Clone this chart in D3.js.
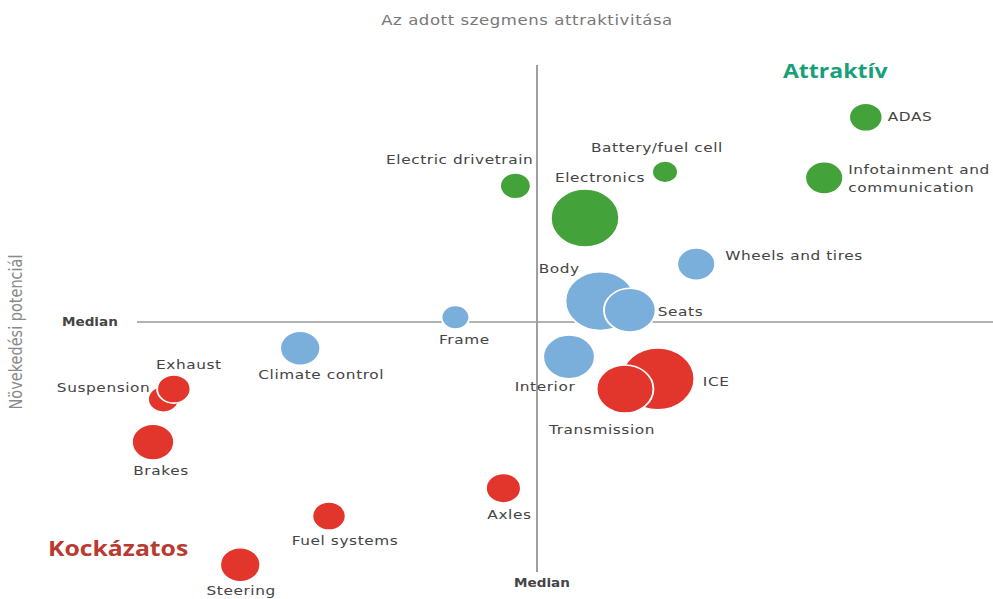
<!DOCTYPE html>
<html>
<head>
<meta charset="utf-8">
<script src="https://cdn.jsdelivr.net/npm/d3@7"></script>
<style>
  html, body { margin: 0; padding: 0; background: #fff; }
  svg { display: block; }
</style>
</head>
<body>
<div id="chart"></div>
<script>
// segment data (x: attractiveness, y: growth potential, size: bubble area)
const names = ["Electric drivetrain", "Battery/fuel cell", "Electronics", "ADAS", "Infotainment and communication",
  "Wheels and tires", "Body", "Seats", "Frame", "Interior", "Climate control",
  "ICE", "Transmission", "Suspension", "Exhaust", "Brakes", "Axles", "Fuel systems", "Steering"]
const xVals = [47.3, 66.0, 56.0, 91.1, 85.9, 69.9, 57.9, 61.6, 39.8, 54.0, 20.4, 65.1, 61.0, 3.3, 4.6, 2.0, 45.8, 24.0, 12.9]
const yVals = [75.4, 78.0, 69.4, 88.2, 76.9, 60.8, 53.9, 52.2, 50.9, 43.5, 45.1, 39.4, 37.5, 35.6, 37.5, 27.6, 19.0, 13.8, 4.7]
const sizes = [17, 12, 84, 20, 26, 26, 87, 48, 14, 48, 29, 96, 58, 17, 20, 32, 22, 20, 29]
const groups = ["g", "g", "g", "g", "g", "b", "b", "b", "b", "b", "b", "r", "r", "r", "r", "r", "r", "r", "r"]

const title = "Az adott szegmens attraktivitása"
const yTitle = "Növekedési potenciál"

// label placement relative to bubble centre (screen px)
const labelPos = {
  "Electric drivetrain": [18, -22, "end"],
  "Battery/fuel cell": [-8, -20, "middle"],
  "Electronics": [15, -36, "middle"],
  "ADAS": [22, 4, "start"],
  "Infotainment and communication": [24, -4, "start"],
  "Wheels and tires": [29, -4, "start"],
  "Body": [-41, -28, "middle"],
  "Seats": [28, 6, "start"],
  "Frame": [9, 27, "middle"],
  "Interior": [-24, 34, "middle"],
  "Climate control": [21, 31, "middle"],
  "ICE": [45, 7, "start"],
  "Transmission": [-23, 45, "middle"],
  "Suspension": [-13, -7, "end"],
  "Exhaust": [15, -20, "middle"],
  "Brakes": [8, 33, "middle"],
  "Axles": [6, 31, "middle"],
  "Fuel systems": [16, 29, "middle"],
  "Steering": [1, 30, "middle"]
}

const data = names.map((n, i) => ({name: n, x: xVals[i], y: yVals[i], size: sizes[i], group: groups[i]}))

const width = 993, height = 599
const k = 1.18 // horizontal stretch of the picture
const vw = width / k

const svg = d3.select("#chart").append("svg")
  .attr("width", width).attr("height", height)
  .attr("viewBox", `0 0 ${vw} ${height}`)
  .attr("preserveAspectRatio", "none")

const xScale = d3.scaleLinear().domain([0, 100]).range([137 / k, 937 / k])
const yScale = d3.scaleLinear().domain([0, 100]).range([590, 54])
const rScale = d3.scaleSqrt().domain([0, 100]).range([0, 31.6])
const color = d3.scaleOrdinal().domain(["g", "b", "r"]).range(["#44a23a", "#7aafdb", "#e2352c"])

const font = "DejaVu Sans, Verdana, sans-serif"

// median lines
svg.append("line")
  .attr("x1", xScale(50)).attr("x2", xScale(50))
  .attr("y1", 65).attr("y2", 572)
  .attr("stroke", "#9a9a9a").attr("stroke-width", 1.6)
svg.append("line")
  .attr("x1", 137 / k).attr("x2", vw)
  .attr("y1", yScale(50)).attr("y2", yScale(50))
  .attr("stroke", "#9a9a9a").attr("stroke-width", 1.6)

svg.append("text").text("Median")
  .attr("x", 62 / k).attr("y", yScale(50) + 4)
  .attr("font-family", font).attr("font-size", 11.5).attr("font-weight", "bold").attr("fill", "#444")
svg.append("text").text("Median")
  .attr("x", xScale(50) + 5 / k).attr("y", 587).attr("text-anchor", "middle")
  .attr("font-family", font).attr("font-size", 11.5).attr("font-weight", "bold").attr("fill", "#444")

// titles
svg.append("text").text(title)
  .attr("x", 527 / k).attr("y", 25).attr("text-anchor", "middle")
  .attr("font-family", font).attr("font-size", 14).attr("letter-spacing", 0.5).attr("fill", "#777")
svg.append("text").text(yTitle)
  .attr("transform", `translate(${22 / k},${332}) rotate(-90)`)
  .attr("text-anchor", "middle")
  .attr("font-family", font).attr("font-size", 14.5).attr("fill", "#8a8a8a")

svg.append("text").text("Attraktív")
  .attr("x", 783 / k).attr("y", 78)
  .attr("font-family", "Open Sans, sans-serif").attr("font-size", 19.5).attr("font-weight", "bold").attr("fill", "#17a07a")
svg.append("text").text("Kockázatos")
  .attr("x", 48 / k).attr("y", 556)
  .attr("font-family", "Open Sans, sans-serif").attr("font-size", 21).attr("font-weight", "bold").attr("fill", "#b83a30")

// bubbles
svg.selectAll(".bubble").data(data).enter().append("circle")
  .attr("class", "bubble")
  .attr("cx", d => xScale(d.x))
  .attr("cy", d => yScale(d.y))
  .attr("r", d => rScale(d.size))
  .attr("fill", d => color(d.group))
  .attr("stroke", "#fff").attr("stroke-width", 1.6)

// labels
const lab = svg.selectAll(".label").data(data).enter().append("text")
  .attr("class", "label")
  .attr("x", d => xScale(d.x) + labelPos[d.name][0] / k)
  .attr("y", d => yScale(d.y) + labelPos[d.name][1])
  .attr("text-anchor", d => labelPos[d.name][2])
  .attr("font-family", font).attr("font-size", 13).attr("letter-spacing", 0.5).attr("fill", "#444")

lab.each(function(d) {
  const t = d3.select(this)
  if (d.name === "Infotainment and communication") {
    t.append("tspan").text("Infotainment and")
    t.append("tspan").text("communication").attr("x", xScale(d.x) + labelPos[d.name][0] / k).attr("dy", 18)
  } else {
    t.text(d.name)
  }
})
</script>
</body>
</html>
